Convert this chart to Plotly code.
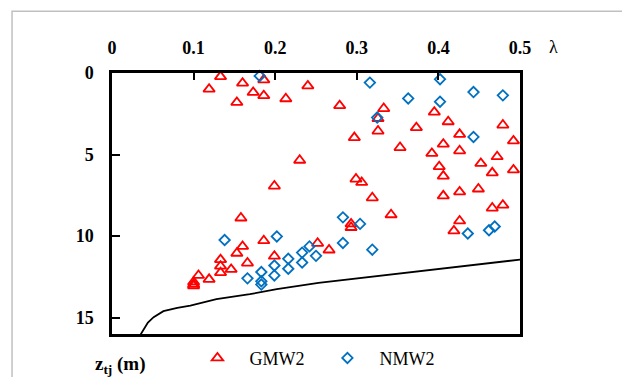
import plotly.graph_objects as go

# GMW2 (triangles): lambda, z_tj
gmw2_lambda = [0.133, 0.119, 0.160, 0.186, 0.173, 0.186, 0.153, 0.213, 0.240, 0.230, 0.199,
               0.326, 0.279, 0.333, 0.395, 0.412, 0.326, 0.373, 0.297, 0.426, 0.479, 0.492,
               0.353, 0.406, 0.392, 0.426, 0.472, 0.452, 0.401, 0.406, 0.466, 0.492, 0.299,
               0.306, 0.319, 0.406, 0.426, 0.449, 0.466, 0.479, 0.342, 0.426, 0.419, 0.293,
               0.293, 0.266, 0.252, 0.158, 0.186, 0.160, 0.153, 0.199, 0.166, 0.133, 0.133,
               0.133, 0.146, 0.106, 0.119, 0.100, 0.100, 0.100]
gmw2_z = [0.22, 0.99, 0.62, 0.42, 1.19, 1.39, 1.80, 1.58, 0.79, 5.35, 6.93,
          2.79, 2.00, 2.18, 2.40, 2.99, 3.56, 3.35, 3.96, 3.76, 3.19, 4.16,
          4.57, 4.36, 4.93, 4.77, 5.13, 5.54, 5.74, 6.32, 6.12, 5.94, 6.50,
          6.71, 7.65, 7.53, 7.29, 7.11, 8.28, 8.10, 8.69, 9.07, 9.68, 9.25,
          9.47, 10.85, 10.44, 8.89, 10.28, 10.63, 11.05, 11.23, 11.65, 11.44, 11.84,
          12.24, 12.04, 12.41, 12.65, 12.81, 12.95, 13.05]

# NMW2 (diamonds): lambda, z_tj
nmw2_lambda = [0.181, 0.316, 0.402, 0.443, 0.479, 0.363, 0.402, 0.325, 0.443, 0.436, 0.462,
               0.469, 0.283, 0.304, 0.283, 0.319, 0.250, 0.138, 0.202, 0.166, 0.183, 0.183,
               0.183, 0.199, 0.199, 0.216, 0.216, 0.233, 0.233, 0.242]
nmw2_z = [0.18, 0.59, 0.38, 1.17, 1.37, 1.56, 1.76, 2.73, 3.92, 9.84, 9.64,
          9.41, 8.85, 9.25, 10.42, 10.83, 11.21, 10.24, 10.02, 12.59, 12.20, 12.77,
          12.97, 11.80, 12.41, 11.39, 12.00, 11.01, 11.62, 10.63]

# boundary curve
curve_lambda = [0.033, 0.038, 0.044, 0.051, 0.063, 0.080, 0.096, 0.128, 0.169, 0.202, 0.253, 0.5]
curve_z = [16.2, 15.75, 15.3, 14.97, 14.6, 14.4, 14.26, 13.86, 13.56, 13.25, 12.87, 11.44]

x_ticks = [0, 0.1, 0.2, 0.3, 0.4, 0.5]
x_tick_labels = ["0", "0.1", "0.2", "0.3", "0.4", "0.5"]
y_ticks = [0, 5, 10, 15]
y_tick_labels = ["0", "5", "10", "15"]

SERIF = "Liberation Serif"

fig = go.Figure()
fig.add_trace(go.Scatter(x=curve_lambda, y=curve_z, mode="lines",
                         line=dict(color="black", width=1.8), showlegend=False,
                         hoverinfo="skip"))
fig.add_trace(go.Scatter(x=gmw2_lambda, y=gmw2_z, mode="markers", name="GMW2",
                         marker=dict(symbol="triangle-up-open", size=10, color="#FF0000",
                                     line=dict(width=1.8, color="#FF0000")),
                         cliponaxis=False))
fig.add_trace(go.Scatter(x=nmw2_lambda, y=nmw2_z, mode="markers", name="NMW2",
                         marker=dict(symbol="diamond-open", size=8, color="#0070C0",
                                     line=dict(width=1.8, color="#0070C0")),
                         cliponaxis=False))

fig.update_layout(
    width=622, height=377,
    margin=dict(l=112, r=102, t=73, b=43, autoexpand=False),
    paper_bgcolor="white", plot_bgcolor="white",
    font=dict(family=SERIF, color="black"),
    xaxis=dict(range=[0, 0.5], side="top", tickvals=x_ticks, ticktext=x_tick_labels,
               ticks="inside", ticklen=7, tickwidth=2, tickcolor="black",
               showgrid=False, zeroline=False, showline=True, linecolor="black",
               linewidth=2.5, mirror=True, ticklabelstandoff=9, automargin=False,
               tickfont=dict(family=SERIF, size=18, color="black", weight="bold")),
    yaxis=dict(range=[16, 0], tickvals=y_ticks, ticktext=y_tick_labels,
               ticks="inside", ticklen=8, tickwidth=2, tickcolor="black",
               showgrid=False, zeroline=False, showline=True, linecolor="black",
               linewidth=2.5, mirror=True, ticklabelstandoff=12, automargin=False,
               tickfont=dict(family=SERIF, size=18, color="black", weight="bold")),
    legend=dict(orientation="h", x=0.18, xanchor="left", y=-0.022, yanchor="top",
                font=dict(family=SERIF, size=18, color="black"),
                itemwidth=54, entrywidth=61, bgcolor="rgba(0,0,0,0)"),
    showlegend=True,
)

fig.add_annotation(text="λ", xref="paper", yref="paper", x=1.081, y=1.1,
                   showarrow=False, font=dict(family=SERIF, size=18, color="black"),
                   xanchor="center", yanchor="middle")
fig.add_annotation(text="<b>z<sub>tj</sub> (m)</b>", xref="paper", yref="paper",
                   x=0.022, y=-0.117, showarrow=False,
                   font=dict(family=SERIF, size=19, color="black"),
                   xanchor="center", yanchor="middle")
fig.add_shape(type="rect", xref="paper", yref="paper", x0=-0.245, y0=-0.3, x1=1.4, y1=1.237,
              line=dict(color="#c0c0c0", width=1.5), layer="below")

fig.write_html("out.html", config={"displayModeBar": False},
               post_script="document.body.style.margin='0';")
